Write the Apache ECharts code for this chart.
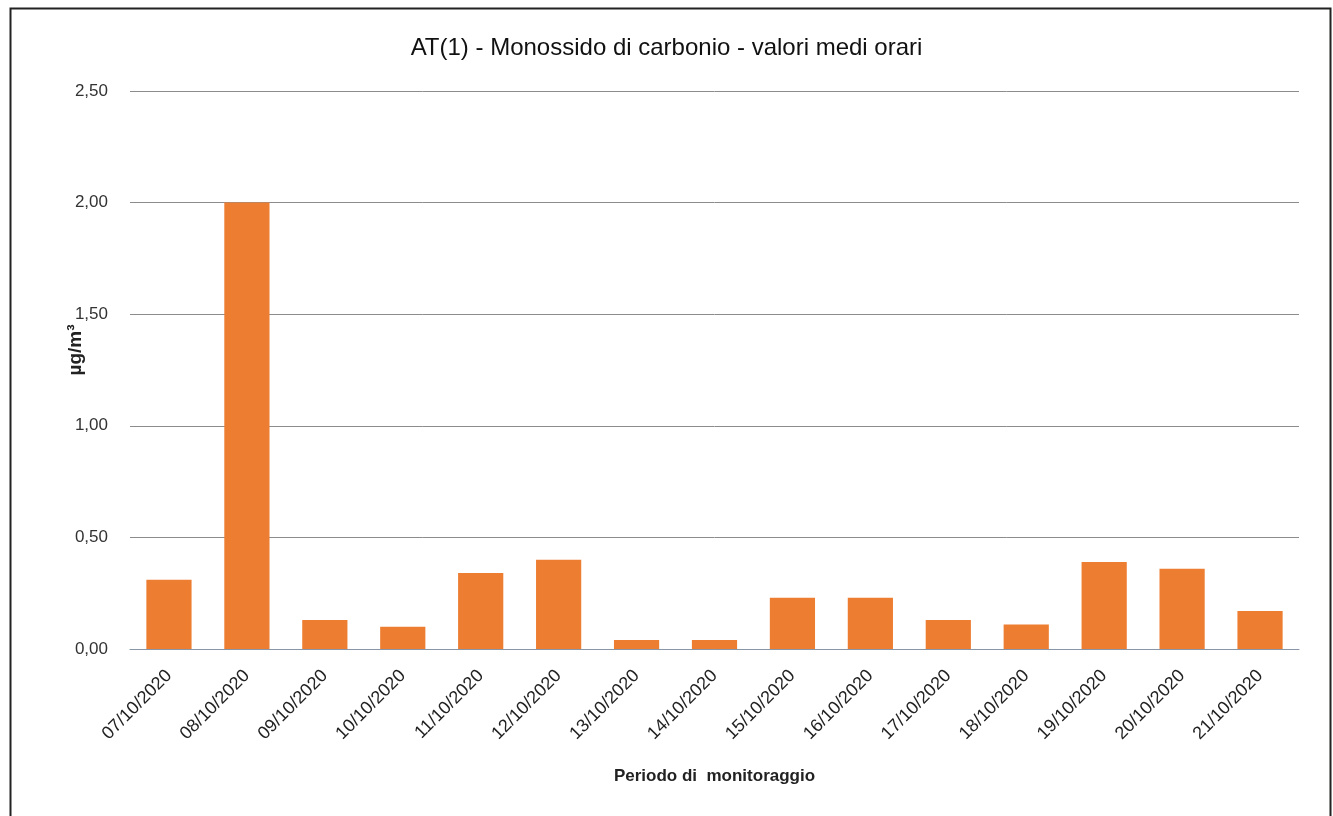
<!DOCTYPE html>
<html>
<head>
<meta charset="utf-8">
<script src="https://cdn.jsdelivr.net/npm/echarts@6/dist/echarts.min.js"></script>
<style>
html,body{margin:0;padding:0;background:#fff;}
#chart{width:1333px;height:816px;}
</style>
</head>
<body>
<div id="chart"></div>
<script>
const categories = ['07/10/2020','08/10/2020','09/10/2020','10/10/2020','11/10/2020','12/10/2020','13/10/2020','14/10/2020','15/10/2020','16/10/2020','17/10/2020','18/10/2020','19/10/2020','20/10/2020','21/10/2020'];
const values = [0.31, 2.00, 0.13, 0.10, 0.34, 0.40, 0.04, 0.04, 0.23, 0.23, 0.13, 0.11, 0.39, 0.36, 0.17];
const titleText = 'AT(1) - Monossido di carbonio - valori medi orari';
const yAxisName = 'µg/m³';
const xAxisName = 'Periodo di  monitoraggio';

const chart = echarts.init(document.getElementById('chart'));
const font = 'Liberation Sans, Arial, sans-serif';
chart.setOption({
  animation: false,
  backgroundColor: '#fff',
  graphic: [{
    type: 'rect', left: 8, top: 6,
    shape: { width: 1320, height: 820 },
    style: { fill: 'none', stroke: '#222', lineWidth: 2 }
  }],
  title: {
    text: titleText, left: 'center', top: 31,
    textStyle: { fontFamily: font, fontSize: 24, fontWeight: 'normal', color: '#111' }
  },
  grid: { left: 130, right: 34, top: 91, bottom: 167 },
  xAxis: {
    type: 'category', data: categories,
    name: xAxisName, nameLocation: 'middle', nameGap: 119,
    nameTextStyle: { fontFamily: font, fontSize: 17, fontWeight: 'bold', color: '#222' },
    axisLine: { lineStyle: { color: '#8896a8', width: 1 } },
    axisTick: { show: false },
    axisLabel: { rotate: 45, interval: 0, fontFamily: font, fontSize: 18, color: '#222', margin: 24 }
  },
  yAxis: {
    type: 'value', min: 0, max: 2.5, interval: 0.5,
    name: yAxisName, nameLocation: 'middle', nameGap: 45, nameMoveOverlap: false,
    nameTextStyle: { fontFamily: font, fontSize: 19, fontWeight: 'bold', color: '#222', padding: [0, 0, 0, 40] },
    axisLine: { show: false }, axisTick: { show: false },
    splitLine: { lineStyle: { color: '#8c8c8c', width: 1 } },
    axisLabel: {
      fontFamily: font, fontSize: 17, color: '#333', margin: 22,
      formatter: v => v.toFixed(2).replace('.', ',')
    }
  },
  series: [{
    type: 'bar', data: values, barCategoryGap: '42%',
    itemStyle: { color: '#ed7d31' }
  }]
});
</script>
</body>
</html>
